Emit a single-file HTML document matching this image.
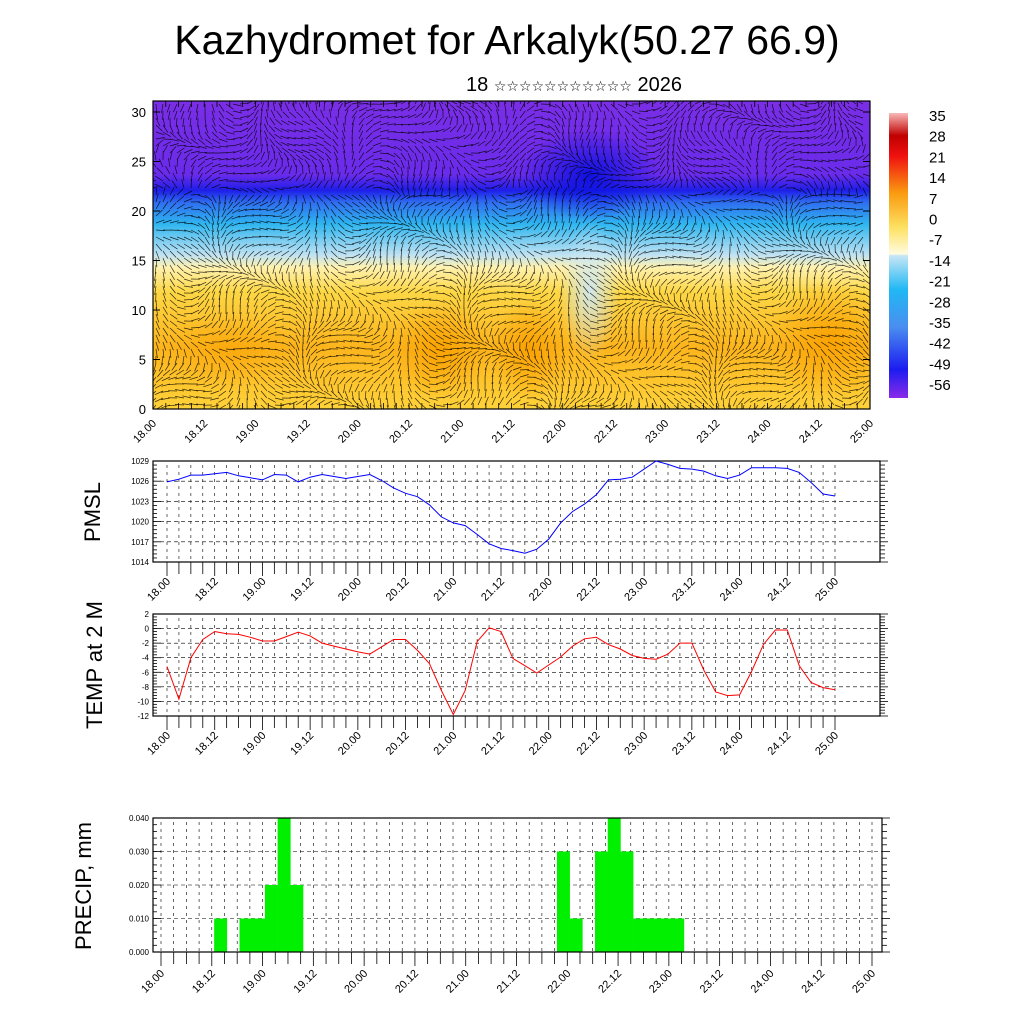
<!DOCTYPE html>
<html><head><meta charset="utf-8">
<style>
body{margin:0;background:#fff;}
svg text{font-family:"Liberation Sans","DejaVu Sans",sans-serif;}
</style></head>
<body>
<svg id="chart" xmlns="http://www.w3.org/2000/svg" width="1024" height="1024" viewBox="0 0 1024 1024">
<defs>
<linearGradient id="bgv" x1="0" y1="1" x2="0" y2="0">
<stop offset="0" stop-color="#ffd23a"/>
<stop offset="0.2" stop-color="#fcb41c"/>
<stop offset="0.38" stop-color="#fdd745"/>
<stop offset="0.46" stop-color="#fff2b0"/>
<stop offset="0.5" stop-color="#bfe2f2"/>
<stop offset="0.6" stop-color="#2fb6f0"/>
<stop offset="0.67" stop-color="#2f6ef0"/>
<stop offset="0.71" stop-color="#1e1ee8"/>
<stop offset="0.76" stop-color="#6a2bea"/>
<stop offset="1" stop-color="#7a2ee6"/>
</linearGradient>
<linearGradient id="cbar" x1="0" y1="1" x2="0" y2="0">
<stop offset="0" stop-color="#8a2be8"/>
<stop offset="0.1" stop-color="#1c1cf0"/>
<stop offset="0.25" stop-color="#4a8ef0"/>
<stop offset="0.38" stop-color="#20b8f4"/>
<stop offset="0.5" stop-color="#c8e6f4"/>
<stop offset="0.505" stop-color="#fffbe0"/>
<stop offset="0.6" stop-color="#fde060"/>
<stop offset="0.72" stop-color="#fa9a10"/>
<stop offset="0.85" stop-color="#f01010"/>
<stop offset="0.92" stop-color="#c00000"/>
<stop offset="1" stop-color="#f8b8b8"/>
</linearGradient>
<radialGradient id="org"><stop offset="0" stop-color="#f9a000" stop-opacity="0.9"/><stop offset="1" stop-color="#f9a000" stop-opacity="0"/></radialGradient>
<radialGradient id="blu"><stop offset="0" stop-color="#0a10e0" stop-opacity="0.95"/><stop offset="1" stop-color="#0a10e0" stop-opacity="0"/></radialGradient>
<radialGradient id="pale"><stop offset="0" stop-color="#cfe8f4" stop-opacity="0.95"/><stop offset="1" stop-color="#cfe8f4" stop-opacity="0"/></radialGradient>
<clipPath id="topclip"><rect x="153" y="101" width="717" height="308"/></clipPath>
</defs>
<text x="507" y="54" font-size="41" text-anchor="middle">Kazhydromet for Arkalyk(50.27 66.9)</text>
<text x="574" y="91" font-size="20" text-anchor="middle">18 <tspan font-size="14">☆☆☆☆☆☆☆☆☆☆☆</tspan> 2026</text>
<g id="topg">
<g clip-path="url(#topclip)">
<rect x="153" y="101" width="717" height="308" fill="url(#bgv)"/>
<ellipse cx="590" cy="175" rx="70" ry="45" fill="url(#blu)"/>
<ellipse cx="590" cy="290" rx="30" ry="70" fill="url(#pale)"/>
<ellipse cx="440" cy="350" rx="50" ry="50" fill="url(#org)"/>
<ellipse cx="530" cy="350" rx="40" ry="50" fill="url(#org)"/>
<ellipse cx="830" cy="340" rx="60" ry="60" fill="url(#org)"/>
<ellipse cx="230" cy="350" rx="70" ry="40" fill="url(#org)" opacity="0.6"/>
<g id="vectors" stroke="#000" stroke-width="0.7" stroke-opacity="0.8"></g>
</g>
<rect x="153" y="101" width="717" height="308" fill="none" stroke="#000" stroke-width="1.2"/>
<g id="topaxes"></g>
</g>
<g id="colorbar">
<rect x="889" y="113" width="19" height="285" fill="url(#cbar)"/>
<g id="cblabels"></g>
</g>
<g id="pmsl"></g>
<g id="temp"></g>
<g id="precip"></g>
<text transform="translate(100,512) rotate(-90)" font-size="22" text-anchor="middle">PMSL</text>
<text transform="translate(102,665) rotate(-90)" font-size="22" text-anchor="middle">TEMP at 2 M</text>
<text transform="translate(91,886) rotate(-90)" font-size="22" text-anchor="middle">PRECIP, mm</text>
</svg>
<script>
var NS="http://www.w3.org/2000/svg";
var timeLabels=["18.00","18.12","19.00","19.12","20.00","20.12","21.00","21.12","22.00","22.12","23.00","23.12","24.00","24.12","25.00"];
var pmslValues=[1025.9,1026.3,1026.9,1026.9,1027.1,1027.3,1026.8,1026.5,1026.2,1027,1026.9,1025.9,1026.6,1027,1026.7,1026.4,1026.7,1027,1026.1,1025,1024.2,1023.7,1022.5,1020.7,1019.8,1019.4,1018.1,1016.7,1016,1015.7,1015.3,1015.9,1017.4,1019.8,1021.5,1022.6,1024,1026.2,1026.3,1026.6,1027.8,1029,1028.5,1027.9,1027.8,1027.5,1026.8,1026.4,1026.9,1028,1028,1028,1027.9,1027.3,1025.8,1024.1,1023.8];
var pmslTicks=[1014,1017,1020,1023,1026,1029];
var tempValues=[-5.2,-9.7,-4,-1.5,-0.4,-0.7,-0.8,-1.2,-1.7,-1.7,-1.1,-0.5,-1,-2,-2.4,-2.8,-3.2,-3.5,-2.5,-1.5,-1.5,-3,-4.8,-8.5,-11.8,-8.5,-1.8,0.1,-0.4,-4.1,-5.1,-6.1,-5,-3.9,-2.4,-1.4,-1.2,-2.2,-2.8,-3.7,-4.1,-4.2,-3.5,-2,-2,-5.7,-8.7,-9.2,-9.1,-5.9,-2.2,-0.2,-0.2,-5.1,-7.4,-8.1,-8.4];
var tempTicks=[-12,-10,-8,-6,-4,-2,0,2];
var precipIndex=[5,7,8,9,10,11,32,33,35,36,37,38,39,40,41];
var precipValues=[0.01,0.01,0.01,0.02,0.04,0.02,0.03,0.01,0.03,0.04,0.03,0.01,0.01,0.01,0.01];
var precipTicks=[0,0.01,0.02,0.03,0.04];
var heightTicks=[0,5,10,15,20,25,30];
var cbLabels=[35,28,21,14,7,0,-7,-14,-21,-28,-35,-42,-49,-56];

function mk(tag,attrs,parent){var e=document.createElementNS(NS,tag);for(var k in attrs)e.setAttribute(k,attrs[k]);parent.appendChild(e);return e;}
function txt(s,attrs,parent){var e=mk("text",attrs,parent);e.textContent=s;return e;}

var topAx=document.getElementById("topaxes");
function hy(v){return 409-v*(409-112)/30;}
heightTicks.forEach(function(v){
  var t=txt(String(v),{x:146,y:hy(v)+5,"font-size":13,"text-anchor":"end"},topAx);
  
  
  mk("line",{x1:153,x2:160,y1:hy(v),y2:hy(v),stroke:"#000"},topAx);
  mk("line",{x1:863,x2:870,y1:hy(v),y2:hy(v),stroke:"#000"},topAx);
});
timeLabels.forEach(function(s,i){
  var x=153+i*(870-153)/14;
  var t=txt(s,{transform:"translate("+(x+4)+",424) rotate(-45)","font-size":11,"text-anchor":"end"},topAx);
  
  
});
for(var i=0;i<=56;i++){var x=153+i*(717/56);mk("line",{x1:x,x2:x,y1:409,y2:403,stroke:"#000","stroke-width":0.8},topAx);mk("line",{x1:x,x2:x,y1:101,y2:107,stroke:"#000","stroke-width":0.8},topAx);}

var vg=document.getElementById("vectors");
var d="";
function ang(x,y){
  var u=(x-153)/717,v=(409-y)/308;
  return Math.sin(u*23+v*7)*1.4+Math.cos(u*9-v*13)*1.1+(v>0.7?-0.5:0.9);
}
for(var gx=156;gx<870;gx+=7){for(var gy=104;gy<409;gy+=7){
  var a=ang(gx,gy),L=9;
  d+="M"+(gx).toFixed(1)+" "+gy.toFixed(1)+"l"+(Math.cos(a)*L).toFixed(1)+" "+(Math.sin(a)*L).toFixed(1);
}}
mk("path",{d:d},vg);

var cb=document.getElementById("cblabels");
cbLabels.forEach(function(v,i){
  var t=txt(String(v),{x:929,y:121+i*20.7,"font-size":15},cb);
  
  
});

function linePanel(gid,vals,ticks,y0,y1,color,prefix){
  var g=document.getElementById(gid);
  var L=153,R=880,x0=167,xN=835;
  var mn=ticks[0],mx=ticks[ticks.length-1];
  function sx(i){return x0+i*(xN-x0)/56;}
  function sy(v){return y1-(v-mn)*(y1-y0)/(mx-mn);}
  for(var i=0;i<=56;i++){var x=sx(i);
    mk("line",{x1:x,x2:x,y1:y0+4,y2:y1,stroke:"#000","stroke-width":0.6,"stroke-dasharray":"3 4"},g);
    mk("line",{x1:x,x2:x,y1:y1,y2:y1+(i%4==0?14:12),stroke:"#000","stroke-width":0.8},g);
  }
  var n=(ticks.length-1)*5;
  for(var k=0;k<=n;k++){var y=y0+k*(y1-y0)/n;var maj=k%5==0;
    mk("line",{x1:L,x2:L+(maj?8:4),y1:y,y2:y,stroke:"#000","stroke-width":0.8},g);
    mk("line",{x1:R,x2:R+(maj?8:5),y1:y,y2:y,stroke:"#000","stroke-width":0.8},g);
  }
  ticks.forEach(function(v){var y=sy(v);
    mk("line",{x1:L,x2:R,y1:y,y2:y,stroke:"#000","stroke-width":0.6,"stroke-dasharray":"4 3"},g);
    var t=txt(String(v),{x:L-4,y:y+3,"font-size":8,"text-anchor":"end"},g);
    
    
  });
  mk("rect",{x:L,y:y0,width:R-L,height:y1-y0,fill:"none",stroke:"#000","stroke-width":1.2},g);
  var p="";vals.forEach(function(v,i){p+=(i?"L":"M")+sx(i).toFixed(1)+" "+sy(v).toFixed(1);});
  var ln=mk("path",{d:p,fill:"none",stroke:color,"stroke-width":1},g);
  
  
  timeLabels.forEach(function(s,i){var x=sx(i*4);
    var t=txt(s,{transform:"translate("+(x+4)+","+(y1+20)+") rotate(-45)","font-size":11,"text-anchor":"end"},g);
    
    
  });
}
linePanel("pmsl",pmslValues,pmslTicks,461,562,"#0000ff","pmsl");
linePanel("temp",tempValues,tempTicks,614,716,"#ff0000","temp");

(function(){
  var g=document.getElementById("precip");
  var L=153,R=882,y0=818,y1=952,x0=161,xN=872;
  var st=(xN-x0)/56;
  function sx(i){return x0+i*st;}
  function bx(i){return x0-4+i*st;}
  function sy(v){return y1-v*(y1-y0)/0.04;}
  for(var i=0;i<=56;i++){var x=sx(i);
    mk("line",{x1:x,x2:x,y1:y0+4,y2:y1,stroke:"#000","stroke-width":0.6,"stroke-dasharray":"3 4"},g);
    mk("line",{x1:x,x2:x,y1:y1,y2:y1+(i%4==0?14:12),stroke:"#000","stroke-width":0.8},g);
  }
  for(var k=0;k<=20;k++){var y=y0+k*(y1-y0)/20;var maj=k%5==0;
    mk("line",{x1:L,x2:L+(maj?8:4),y1:y,y2:y,stroke:"#000","stroke-width":0.8},g);
    mk("line",{x1:R,x2:R+(maj?8:5),y1:y,y2:y,stroke:"#000","stroke-width":0.8},g);
  }
  precipTicks.forEach(function(v){var y=sy(v);
    mk("line",{x1:L,x2:R,y1:y,y2:y,stroke:"#000","stroke-width":0.6,"stroke-dasharray":"4 3"},g);
    var t=txt(v.toFixed(3),{x:L-4,y:y+3,"font-size":8,"text-anchor":"end"},g);
    
    
  });
  precipIndex.forEach(function(idx,j){
    var v=precipValues[j];
    var b=mk("rect",{x:bx(idx)-st/2,y:sy(v),width:st+0.3,height:y1-sy(v),fill:"#00f000"},g);
    
    
  });
  mk("rect",{x:L,y:y0,width:R-L,height:y1-y0,fill:"none",stroke:"#000","stroke-width":1.2},g);
  timeLabels.forEach(function(s,i){var x=sx(i*4);
    var t=txt(s,{transform:"translate("+(x+4)+","+(y1+22)+") rotate(-45)","font-size":11,"text-anchor":"end"},g);
    
    
  });
})();
</script>
</body></html>
